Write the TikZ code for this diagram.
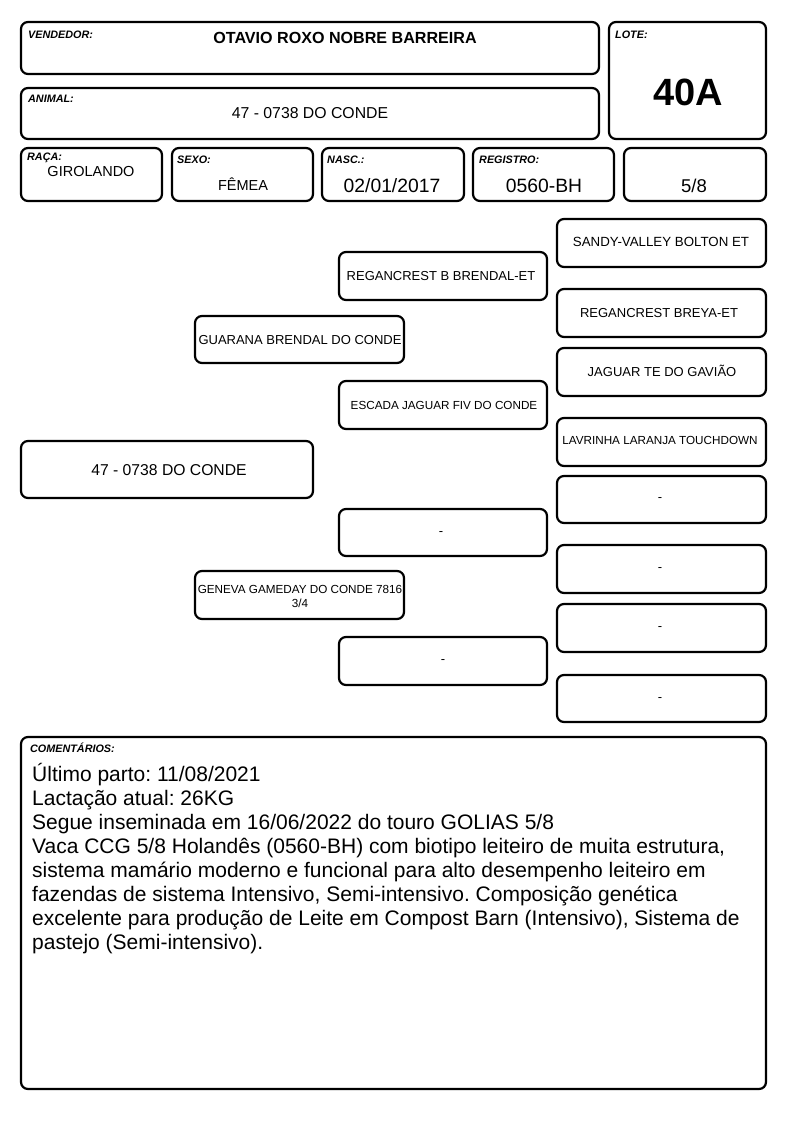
\documentclass[tikz,border=0pt]{standalone}
\usepackage{fontspec}
\setmainfont{Liberation Sans}
\usetikzlibrary{fit}
\frenchspacing
\begin{document}
\begin{tikzpicture}[x=1pt,y=-1pt,
 box/.style={draw, line width=2.2pt, rounded corners=7pt, inner sep=0pt},
 lbl/.style={anchor=west, inner sep=0pt, font=\fontsize{10.8}{12}\selectfont\bfseries\itshape},
 val/.style={inner sep=0pt, font=\fontsize{14.5}{17}\selectfont},
 big/.style={inner sep=0pt, font=\fontsize{19.3}{22}\selectfont},
 ped/.style={inner sep=0pt, font=\fontsize{13}{15}\selectfont},
 peds/.style={inner sep=0pt, font=\fontsize{11.7}{14}\selectfont},
 com/.style={anchor=base west, inner sep=0pt, font=\fontsize{21}{24}\selectfont}]
\useasboundingbox[fill=white] (0,0) rectangle (794,1123);

% header boxes
\node[box, fit={(21,22) (599,74)}] (vend) {};
\node[box, fit={(21,88) (599,139)}] (anim) {};
\node[box, fit={(609,22) (766,139)}] (lote) {};
\node[box, fit={(21,148) (162,201)}] (raca) {};
\node[box, fit={(172,148) (313,201)}] (sexo) {};
\node[box, fit={(322,148) (464,201)}] (nasc) {};
\node[box, fit={(473,148) (614,201)}] (reg) {};
\node[box, fit={(624,148) (766,201)}] (grau) {};

\node[lbl] (lvend) at (28,35) {VENDEDOR:};
\node[lbl] (lanim) at (28,99) {ANIMAL:};
\node[lbl] (llote) at (615,35) {LOTE:};
\node[lbl] (lraca) at (27,158) {RAÇA:};
\node[lbl] (lsexo) at (177,160) {SEXO:};
\node[lbl] (lnasc) at (327,160) {NASC.:};
\node[lbl] (lreg) at (479,160) {REGISTRO:};

\node[inner sep=0pt, font=\fontsize{16.1}{18}\selectfont\bfseries] (tvend) at (345,38) {OTAVIO ROXO NOBRE BARREIRA};
\node[inner sep=0pt, font=\fontsize{15.8}{18}\selectfont] (tanim) at (310,113) {47 - 0738 DO CONDE};
\node[inner sep=0pt, font=\fontsize{38}{42}\selectfont\bfseries] (tlote) at (688,92) {40A};
\node[val] (traca) at (91,172) {GIROLANDO};
\node[val] (tsexo) at (243,184) {FÊMEA};
\node[big] (tnasc) at (392,186) {02/01/2017};
\node[big] (treg) at (544,186) {0560-BH};
\node[inner sep=0pt, font=\fontsize{18.5}{21}\selectfont] (tgrau) at (694,186) {5/8};

% pedigree
\node[box, fit={(21,441) (313,498)}] (p0) {};
\node[inner sep=0pt, font=\fontsize{15.7}{18}\selectfont] (tp0) at (169,470) {47 - 0738 DO CONDE};

\node[box, fit={(195,316) (404,363)}] (s) {};
\node[ped] (ts) at (300,340) {GUARANA BRENDAL DO CONDE};
\node[box, fit={(195,571) (404,619)}] (d) {};
\node[peds, align=center] (td) at (300,596) {GENEVA GAMEDAY DO CONDE 7816\\3/4};

\node[box, fit={(339,252) (547,300)}] (ss) {};
\node[ped] (tss) at (441,276) {REGANCREST B BRENDAL-ET};
\node[box, fit={(339,381) (547,429)}] (sd) {};
\node[peds] (tsd) at (444,405) {ESCADA JAGUAR FIV DO CONDE};
\node[box, fit={(339,509) (547,556)}] (ds) {};
\node[ped] (tds) at (441,534) {-};
\node[box, fit={(339,637) (547,685)}] (dd) {};
\node[ped] (tdd) at (443,662) {-};

\node[box, fit={(557,219) (766,267)}] (sss) {};
\node[ped, font=\fontsize{13.3}{15}\selectfont] (tsss) at (661,242) {SANDY-VALLEY BOLTON ET};
\node[box, fit={(557,289) (766,337)}] (ssd) {};
\node[ped] (tssd) at (659,313) {REGANCREST BREYA-ET};
\node[box, fit={(557,348) (766,396)}] (sds) {};
\node[ped] (tsds) at (662,371) {JAGUAR TE DO GAVIÃO};
\node[box, fit={(557,418) (766,466)}] (sdd) {};
\node[peds] (tsdd) at (660,440) {LAVRINHA LARANJA TOUCHDOWN};
\node[box, fit={(557,476) (766,523)}] (dss) {};
\node[ped] (tdss) at (660,500) {-};
\node[box, fit={(557,545) (766,593)}] (dsd) {};
\node[ped] (tdsd) at (660,570) {-};
\node[box, fit={(557,604) (766,652)}] (dds) {};
\node[ped] (tdds) at (660,629) {-};
\node[box, fit={(557,675) (766,722)}] (ddd) {};
\node[ped] (tddd) at (660,700) {-};

% comments
\node[box, fit={(21,737) (766,1089)}] (coment) {};
\node[lbl] (lcom) at (30,748) {COMENTÁRIOS:};
\node[com] (c1) at (32,781) {Último parto: 11/08/2021};
\node[com] (c2) at (32,805) {Lactação atual: 26KG};
\node[com] (c3) at (32,829) {Segue inseminada em 16/06/2022 do touro GOLIAS 5/8};
\node[com] (c4) at (32,853) {Vaca CCG 5/8 Holandês (0560-BH) com biotipo leiteiro de muita estrutura,};
\node[com] (c5) at (32,877) {sistema mamário moderno e funcional para alto desempenho leiteiro em};
\node[com] (c6) at (32,901) {fazendas de sistema Intensivo, Semi-intensivo. Composição genética};
\node[com] (c7) at (32,925) {excelente para produção de Leite em Compost Barn (Intensivo), Sistema de};
\node[com] (c8) at (32,949) {pastejo (Semi-intensivo).};
\end{tikzpicture}
\end{document}
